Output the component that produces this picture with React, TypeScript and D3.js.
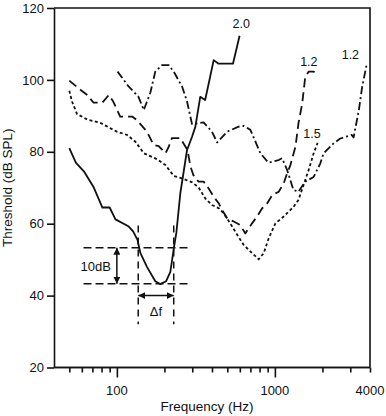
import { useEffect, useRef } from "react";
import * as d3 from "d3";

// tuning curves: [frequency Hz, threshold dB SPL]
const curveSolid = [
  [50, 81], [55, 77], [62, 74.5], [71, 70.3], [81, 64.5], [90, 64.5], [98, 61.2],
  [119, 59.2], [127, 57.8], [135, 55.5], [141, 51.8], [155, 48], [175, 44], [188, 43.2],
  [205, 44], [218, 46.6], [229, 53], [238, 57.5], [252, 68.4], [278, 80.5], [299, 84.2],
  [314, 87], [337, 95.3], [362, 94.4], [410, 105.5], [440, 104.5], [543, 104.5], [598, 112.3],
];

const curveDashed = [
  [50, 99.8], [59, 97.2], [65, 95.8], [71, 93.7], [81, 93.7], [89, 95.8], [95, 93.9],
  [105, 89.8], [125, 89.8], [134, 88.8], [155, 85.6], [171, 81.9], [184, 81.6], [203, 79.6],
  [213, 81.4], [223, 83.8], [252, 83.8], [280, 80.5], [292, 76], [305, 73.5], [329, 71.7],
  [354, 71.7], [381, 69.8], [410, 67.5], [441, 65.7], [464, 63.8], [499, 61.5], [549, 60.6],
  [604, 59.6], [650, 57.3], [717, 60.1], [772, 62], [831, 64.3], [895, 65.7], [963, 68],
  [1058, 68.9], [1137, 71.2], [1195, 74], [1254, 76.3], [1350, 81.4], [1410, 87.9],
  [1490, 93.5], [1557, 100.9], [1635, 102.3], [1760, 102.3], [1830, 101.6],
];

const curveDotted = [
  [50, 97], [52, 94], [56, 90.5], [65, 89], [79, 88], [100, 85.6], [116, 84.7], [131, 82.8],
  [148, 79.6], [180, 77.9], [203, 76.3], [229, 73.3], [259, 72.6], [300, 71.5], [330, 70],
  [363, 67], [400, 65.2], [441, 64.3], [474, 62.9], [522, 60.1], [576, 57], [635, 54.1],
  [718, 51.8], [790, 50.1], [850, 51.8], [913, 55.9], [1008, 60.1], [1137, 62], [1313, 64.7],
  [1410, 66.6], [1520, 70.8], [1635, 74.9], [1760, 79.6], [1865, 82.5],
];

const curveDashDot = [
  [101, 102.3], [119, 98.1], [128, 96.7], [137, 95.3], [148, 91.6], [163, 96.5], [175, 102.3],
  [193, 104.1], [213, 104.1], [229, 102.3], [259, 98.1], [278, 94], [299, 87.7], [322, 87.9],
  [354, 88.2], [400, 85.6], [431, 82.6], [499, 85.6], [590, 87], [635, 87.2], [700, 86.1],
  [810, 79.6], [910, 77], [1058, 77.7], [1110, 78.2], [1195, 75], [1310, 69.4], [1410, 68.9],
  [1557, 71.7], [1760, 73], [1940, 76.8], [2035, 79.6], [2360, 82.4], [2594, 83.7],
  [3064, 84.7], [3150, 84], [3400, 91.6], [3570, 98.1], [3800, 104],
];

// curve labels (sharpness values), anchored in data units
const curveLabels = [
  { text: "2.0", f: 613, v: 114.4 },
  { text: "1.2", f: 1641, v: 104 },
  { text: "1.2", f: 3006, v: 105.8 },
  { text: "1.5", f: 1719, v: 83.8 },
];

const yTicks = [20, 40, 60, 80, 100, 120];
const xMajor = [100, 1000];
const xMinor = [50, 60, 70, 80, 90, 200, 300, 400, 500, 600, 700, 800, 900, 2000, 3000, 4000];
const xLabels = [100, 1000, 4000];

// bandwidth annotation
const dbLevels = [53.3, 43.3];
const bwEdges = [136.5, 229];
const dbLineSpan = [61.5, 285];
const edgeLineSpan = [59.5, 32];
const dbArrowFreq = 100;
const dfArrowLevel = 40;

const FONT = "'Liberation Sans', Arial, Helvetica, sans-serif";

export default function App() {
  const ref = useRef<SVGSVGElement>(null);

  useEffect(() => {
    const svg = d3.select(ref.current);
    svg.selectAll("*").remove();

    const x = d3.scaleLog().domain([40, 4000]).range([54, 370]);
    const y = d3.scaleLinear().domain([20, 120]).range([367.5, 8]);

    const defs = svg.append("defs");
    defs.append("marker")
      .attr("id", "arrow")
      .attr("viewBox", "0 0 10 10")
      .attr("refX", 10).attr("refY", 5)
      .attr("markerWidth", 7).attr("markerHeight", 7)
      .attr("markerUnits", "userSpaceOnUse")
      .attr("orient", "auto-start-reverse")
      .append("path")
      .attr("d", "M0,0L10,5L0,10z")
      .attr("fill", "#111");

    // frame
    svg.append("path")
      .attr("d", `M${x(40)},${y(120)}H${x(4000)}V${y(20)}`)
      .attr("fill", "none").attr("stroke", "#111").attr("stroke-width", 1.6);

    const gx = svg.append("g").attr("transform", `translate(0,${y(20)})`);
    gx.append("g").call(d3.axisBottom(x).tickValues(xMinor).tickSize(5).tickSizeOuter(0).tickFormat(() => ""));
    gx.append("g").call(d3.axisBottom(x).tickValues(xMajor).tickSize(10).tickSizeOuter(0).tickFormat(() => ""));
    gx.selectAll("path, line").attr("stroke", "#111").attr("stroke-width", 1.6);
    gx.selectAll("path.domain").attr("d", `M${x(40)},0H${x(4000)}`);

    svg.append("g").selectAll("text").data(xLabels).join("text")
      .attr("x", d => x(d)).attr("y", 395)
      .attr("text-anchor", "middle")
      .attr("font-family", FONT).attr("font-size", 13).attr("fill", "#111")
      .text(d => d);

    const gy = svg.append("g").attr("transform", `translate(${x(40)},0)`)
      .call(d3.axisLeft(y).tickValues(yTicks).tickSize(7).tickPadding(3).tickSizeOuter(0));
    gy.selectAll("path, line").attr("stroke", "#111").attr("stroke-width", 1.6);
    gy.selectAll("text").attr("font-family", FONT).attr("font-size", 13).attr("fill", "#111");

    svg.append("text")
      .attr("x", 207).attr("y", 411)
      .attr("text-anchor", "middle")
      .attr("font-family", FONT).attr("font-size", 13.5).attr("fill", "#111")
      .text("Frequency (Hz)");

    svg.append("text")
      .attr("transform", `translate(12,${(y(20) + y(120)) / 2}) rotate(-90)`)
      .attr("text-anchor", "middle")
      .attr("font-family", FONT).attr("font-size", 13.5).attr("fill", "#111")
      .text("Threshold (dB SPL)");

    const line = d3.line<number[]>().x(d => x(d[0])).y(d => y(d[1]));

    const series = [
      { data: curveSolid, dash: null },
      { data: curveDashed, dash: "9,5" },
      { data: curveDotted, dash: "3,2.5" },
      { data: curveDashDot, dash: "8,3,2,3" },
    ];
    svg.append("g").selectAll("path").data(series).join("path")
      .attr("d", d => line(d.data))
      .attr("fill", "none")
      .attr("stroke", "#111")
      .attr("stroke-width", 1.8)
      .attr("stroke-linejoin", "round")
      .attr("stroke-dasharray", d => d.dash);

    svg.append("g").selectAll("text").data(curveLabels).join("text")
      .attr("x", d => x(d.f)).attr("y", d => y(d.v))
      .attr("text-anchor", "middle")
      .attr("font-family", FONT).attr("font-size", 12.5).attr("fill", "#111")
      .text(d => d.text);

    // bandwidth annotation
    const ann = svg.append("g").attr("stroke", "#111").attr("stroke-width", 1.5);
    ann.selectAll("line.h").data(dbLevels).join("line")
      .attr("class", "h")
      .attr("x1", x(dbLineSpan[0])).attr("x2", x(dbLineSpan[1]))
      .attr("y1", d => y(d)).attr("y2", d => y(d))
      .attr("stroke-dasharray", "8,4");
    ann.selectAll("line.v").data(bwEdges).join("line")
      .attr("class", "v")
      .attr("x1", d => x(d)).attr("x2", d => x(d))
      .attr("y1", y(edgeLineSpan[0])).attr("y2", y(edgeLineSpan[1]))
      .attr("stroke-dasharray", "7,5");
    ann.append("line")
      .attr("x1", x(dbArrowFreq)).attr("x2", x(dbArrowFreq))
      .attr("y1", y(dbLevels[0])).attr("y2", y(dbLevels[1]))
      .attr("marker-start", "url(#arrow)").attr("marker-end", "url(#arrow)");
    ann.append("line")
      .attr("x1", x(bwEdges[0])).attr("x2", x(bwEdges[1]))
      .attr("y1", y(dfArrowLevel)).attr("y2", y(dfArrowLevel))
      .attr("marker-start", "url(#arrow)").attr("marker-end", "url(#arrow)");

    svg.append("text")
      .attr("x", x(dbArrowFreq) - 6).attr("y", (y(dbLevels[0]) + y(dbLevels[1])) / 2 + 5)
      .attr("text-anchor", "end")
      .attr("font-family", FONT).attr("font-size", 13).attr("fill", "#111")
      .text("10dB");
    svg.append("text")
      .attr("x", (x(bwEdges[0]) + x(bwEdges[1])) / 2).attr("y", y(dfArrowLevel) + 20)
      .attr("text-anchor", "middle")
      .attr("font-family", FONT).attr("font-size", 13).attr("fill", "#111")
      .text("Δf");
  }, []);

  return (
    <div style={{ position: "absolute", left: 0, top: 0, background: "#fff" }}>
      <svg ref={ref} width={386} height={416} />
    </div>
  );
}
